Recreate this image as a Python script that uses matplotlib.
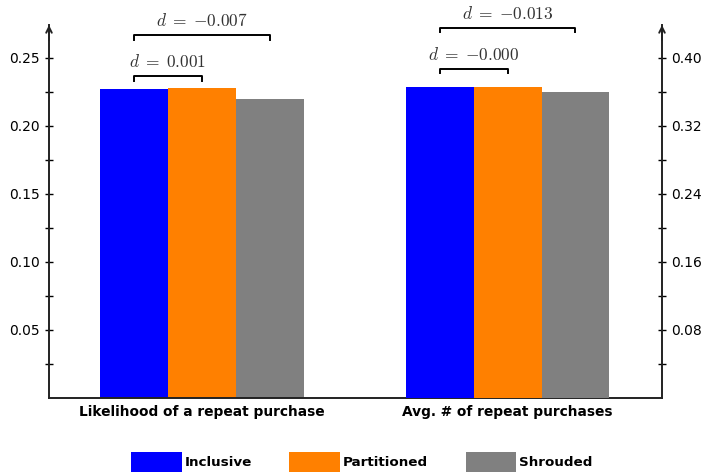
import matplotlib.pyplot as plt
import matplotlib.transforms as mtransforms
from matplotlib.patches import Patch
import numpy as np

plt.rcParams['font.family'] = ['DejaVu Sans']
plt.rcParams['mathtext.fontset'] = 'cm'

# data
categories = ["Likelihood of a repeat purchase", "Avg. # of repeat purchases"]
series = ["Inclusive", "Partitioned", "Shrouded"]
inclusive = [0.227, 0.366]
partitioned = [0.228, 0.366]
shrouded = [0.220, 0.360]
d_inner = ["0.001", "-0.000"]
d_outer = ["-0.007", "-0.013"]

left_ticks = [0.05, 0.10, 0.15, 0.20, 0.25]
right_ticks = [0.08, 0.16, 0.24, 0.32, 0.40]

colors = ["#0000ff", "#ff8000", "#808080"]
width = 0.222

fig = plt.figure(figsize=(7.05, 4.74), dpi=100)
ax = fig.add_axes([49 / 705, 76 / 474, 613 / 705, 373 / 474])
ax2 = ax.twinx()

x = np.arange(len(categories))
values = [inclusive, partitioned, shrouded]
offsets = [-width, 0, width]

# left group on the left axis, right group on the right axis
for k in range(3):
    ax.bar(x[0] + offsets[k], values[k][0], width, color=colors[k], zorder=2)
    ax2.bar(x[1] + offsets[k], values[k][1], width, color=colors[k], zorder=2)

ax.set_xlim(-0.5, 1.505)
ax.set_ylim(0, 0.274)
ax2.set_ylim(0, 0.274 * 1.6)

ax.set_yticks(left_ticks)
ax.set_yticklabels([f"{v:.2f}" for v in left_ticks])
ax.set_yticks(np.array(left_ticks) - 0.025, minor=True)
ax2.set_yticks(right_ticks)
ax2.set_yticklabels([f"{v:.2f}" for v in right_ticks])
ax2.set_yticks(np.array(right_ticks) - 0.04, minor=True)

ax.set_xticks(x)
ax.set_xticklabels(categories, fontweight='bold', fontsize=9.9)
ax.tick_params(axis='x', length=0, pad=5)
for a in (ax, ax2):
    a.tick_params(axis='y', which='both', direction='inout', length=6, width=1,
                  labelsize=10, colors='black')
    a.spines['top'].set_visible(False)
    for s in a.spines.values():
        s.set_linewidth(1.4)
        s.set_color('#222222')
ax.spines['right'].set_visible(False)
ax2.spines['left'].set_visible(False)
ax2.spines['bottom'].set_visible(False)

# arrow heads on the two vertical axes
for xa in (0, 1):
    ax.annotate("", xy=(xa, 1.0), xytext=(xa, 0.96), xycoords='axes fraction',
                arrowprops=dict(arrowstyle='->', lw=1.4, color='#222222',
                                shrinkA=0, shrinkB=0), annotation_clip=False)

# significance brackets
trans = mtransforms.blended_transform_factory(ax.transData, ax.transAxes)
bracket_y = [(0.863, 0.973), (0.882, 0.992)]
tick = 0.012
for g in range(2):
    x0 = x[g] + offsets[0]
    for j, (lbl, xe) in enumerate([(d_inner[g], x[g] + offsets[1]),
                                   (d_outer[g], x[g] + offsets[2])]):
        y = bracket_y[g][j]
        ax.plot([x0, x0, xe, xe], [y - tick, y, y, y - tick], color='black',
                lw=1.4, transform=trans, clip_on=False, zorder=3)
        ax.text((x0 + xe) / 2, y + 0.013, r"$d\;=\;{" + lbl + "}$", transform=trans,
                ha='center', va='bottom', fontsize=12.5, color='#333333')

handles = [Patch(facecolor=c, edgecolor='none') for c in colors]
fig.legend(handles, series, loc='center', bbox_to_anchor=(0.513, 12 / 474),
           ncol=3, frameon=False, handlelength=3.75, handleheight=2.0,
           handletextpad=0.2, columnspacing=2.8, borderpad=0,
           prop={'weight': 'bold', 'size': 9.7})

fig.savefig("out.png", dpi=100)
